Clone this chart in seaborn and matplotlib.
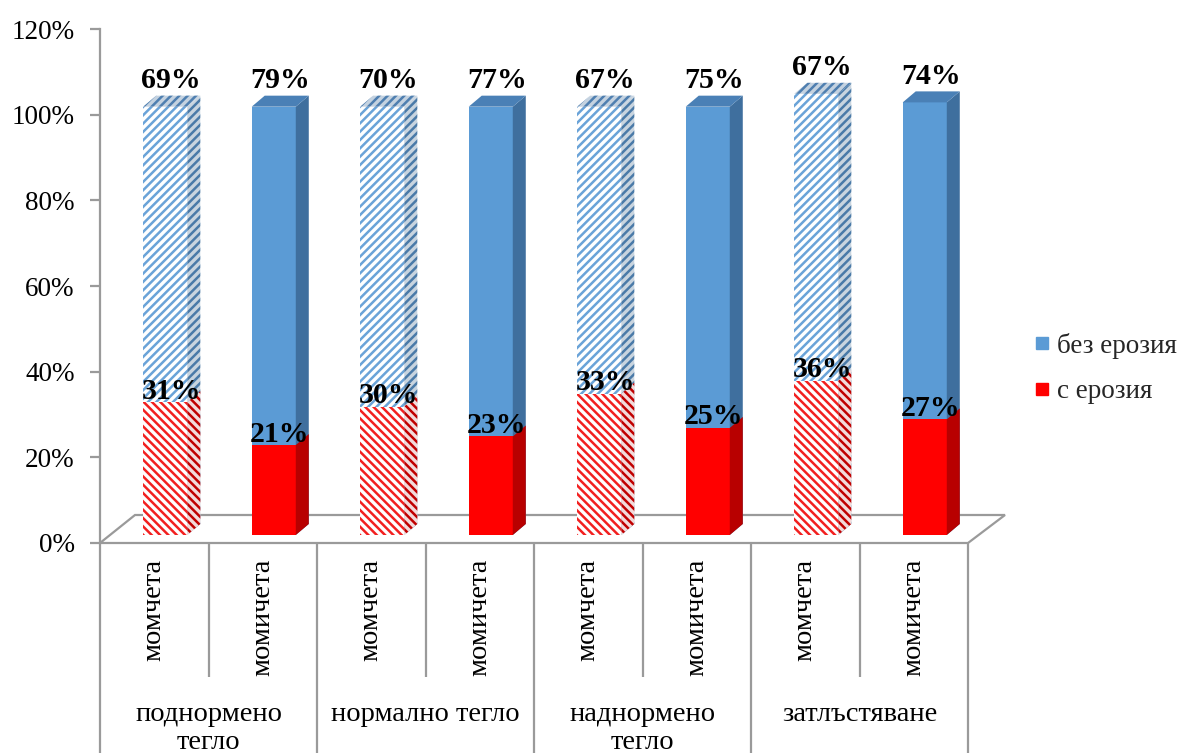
import numpy as np
import pandas as pd
import matplotlib
matplotlib.use("Agg")
import matplotlib.pyplot as plt
import matplotlib.transforms as mtransforms
from matplotlib.patches import Polygon
from matplotlib.lines import Line2D
import seaborn as sns

# ---- data -------------------------------------------------------------
groups = ["поднормено\nтегло", "нормално тегло", "наднормено\nтегло", "затлъстяване"]
sexes = ["момчета", "момичета"]
with_erosion = [31, 21, 30, 23, 33, 25, 36, 27]      # с ерозия
without_erosion = [69, 79, 70, 77, 67, 75, 67, 74]   # без ерозия
y_ticks = [0, 20, 40, 60, 80, 100, 120]
series_labels = ["без ерозия", "с ерозия"]

BLUE = "#5B9BD5"
RED = "#FF0000"
GRAY = "#9a9a9a"

keys = [f"{g}|{s}" for g in groups for s in sexes]
df = pd.DataFrame({
    "key": keys,
    "sex": [s for g in groups for s in sexes],
    "red": with_erosion,
    "blue": without_erosion,
})
df["total"] = df["red"] + df["blue"]

# ---- style ------------------------------------------------------------
sns.set_theme(style="white")
plt.rcParams["font.family"] = ["Liberation Serif", "DejaVu Serif"]
plt.rcParams["hatch.linewidth"] = 1.8

W, H = 1184, 753
fig = plt.figure(figsize=(W / 100, H / 100), dpi=100)
ax = fig.add_axes([100 / W, (H - 543) / H, 868 / W, 514 / H])

sns.barplot(data=df, x="key", y="total", order=keys, color=BLUE,
            saturation=1, width=0.406, errorbar=None, ax=ax)
sns.barplot(data=df, x="key", y="red", order=keys, color=RED,
            saturation=1, width=0.406, errorbar=None, ax=ax)

ax.set_xlim(-0.5, len(keys) - 0.5)
ax.set_ylim(0, 120)

# pixel size of one data unit
p0 = ax.transData.transform((0, 0))
p1 = ax.transData.transform((1, 1))
sx, sy = p1[0] - p0[0], p1[1] - p0[1]

# 3D look: bars sit mid-depth on the floor, with a receding side and top
shift = mtransforms.ScaledTranslation(11 / 100, 8 / 100, fig.dpi_scale_trans)
tr = ax.transData + shift
ddx, ddy = 13 / sx, 11 / sy

# floor
fx = 37 / sx
fy = 28 / sy
floor = Polygon([(-0.5, 0), (len(keys) - 0.5, 0),
                 (len(keys) - 0.5 + fx, fy), (-0.5 + 35 / sx, fy)],
                closed=True, facecolor="white", edgecolor=GRAY, lw=1.6,
                clip_on=False, zorder=1)
ax.add_patch(floor)

n = len(keys)
bars_total = ax.patches[:n]
bars_red = ax.patches[n:2 * n]

styles = {
    # front face, front hatch, side face, side hatch, top face, top hatch, hatch
    ("blue", True): ("white", "#6aa3d8", "#c8d4df", "#4a7aa8", "#c4d2e0", "#4f7fb0", "////"),
    ("blue", False): (BLUE, None, "#3f6f9e", None, "#4a80b6", None, None),
    ("red", True): ("white", "#f22020", "#f2dada", "#c00000", "#f6e0e0", "#d00000", "\\\\\\\\"),
    ("red", False): (RED, None, "#b80000", None, "#d80000", None, None),
}


def face(verts, fc, hc, hatch, z):
    p = Polygon(verts, closed=True, facecolor=fc,
                edgecolor=hc if hc else fc, lw=0, hatch=hatch,
                transform=tr, clip_on=False, zorder=z)
    ax.add_patch(p)


for i in range(n):
    hatched = df["sex"].iloc[i] == sexes[0]
    z = 3 + i * 0.01
    for patch, name, with_top in ((bars_total[i], "blue", True), (bars_red[i], "red", False)):
        fc, hc, sc, shc, tc, thc, hatch = styles[(name, hatched)]
        patch.set_transform(tr)
        patch.set_clip_on(False)
        patch.set_facecolor(fc)
        patch.set_linewidth(0)
        patch.set_zorder(z + (0.002 if name == "red" else 0))
        if hatched:
            patch.set_edgecolor(hc)
            patch.set_hatch(hatch)
        else:
            patch.set_edgecolor(fc)
        x0 = patch.get_x()
        x1 = x0 + patch.get_width()
        y0 = patch.get_y()
        y1 = y0 + patch.get_height()
        face([(x1, y0), (x1 + ddx, y0 + ddy), (x1 + ddx, y1 + ddy), (x1, y1)],
             sc, shc, hatch, patch.get_zorder() + 0.001)
        if with_top:
            face([(x0, y1), (x1, y1), (x1 + ddx, y1 + ddy), (x0 + ddx, y1 + ddy)],
                 tc, thc, hatch, patch.get_zorder() + 0.001)

# value labels
px2pt = 72 / 100
for i in range(n):
    red = df["red"].iloc[i]
    blue = df["blue"].iloc[i]
    tot = df["total"].iloc[i]
    ax.annotate(f"{blue}%", xy=(i, tot), xytext=(17 * px2pt, 34 * px2pt),
                textcoords="offset points", ha="center", va="center",
                fontsize=21.5, fontweight="bold", color="black",
                annotation_clip=False, zorder=10)
    ax.annotate(f"{red}%", xy=(i, red), xytext=(17 * px2pt, 19 * px2pt),
                textcoords="offset points", ha="center", va="center",
                fontsize=21.5, fontweight="bold", color="black",
                annotation_clip=False, zorder=10)

# axes styling
for side in ("top", "right", "bottom"):
    ax.spines[side].set_visible(False)
ax.spines["left"].set_color(GRAY)
ax.spines["left"].set_linewidth(1.6)
ax.spines["left"].set_zorder(2)
ax.set_yticks(y_ticks)
ax.set_yticklabels([f"{v}%" for v in y_ticks])
ax.tick_params(axis="y", length=7.2, width=1.6, color=GRAY, labelsize=19.5,
               pad=11, left=True, labelcolor="black")
ax.set_xticks([])
ax.set_xlabel("")
ax.set_ylabel("")
ax.grid(False)

# category table beneath the axis
inner_bottom = -(677 - 543) / sy
outer_bottom = -(770 - 543) / sy
for k in range(n + 1):
    yb = outer_bottom if k % 2 == 0 else inner_bottom
    ax.plot([k - 0.5, k - 0.5], [0, yb], color=GRAY, lw=1.6,
            clip_on=False, zorder=2, solid_capstyle="butt")

for i in range(n):
    ax.text(i, -16 / sy, df["sex"].iloc[i], rotation=90, ha="center",
            va="top", fontsize=20.5, color="black", clip_on=False)

for g, label in enumerate(groups):
    ax.text(2 * g + 0.5, -(702 - 543) / sy, label, ha="center", va="top",
            fontsize=20.5, color="black", linespacing=1.15,
            multialignment="center", clip_on=False)

# legend
handles = [Line2D([0], [0], marker="s", ls="", color=BLUE, markersize=8),
           Line2D([0], [0], marker="s", ls="", color=RED, markersize=8)]
fig.legend(handles, series_labels, loc="upper left",
           bbox_to_anchor=(1018 / W, 1 - 322 / H), frameon=False,
           fontsize=19.5, handletextpad=0.05, labelspacing=0.75,
           handlelength=1.0, borderaxespad=0)

fig.savefig("out.png", dpi=100)
